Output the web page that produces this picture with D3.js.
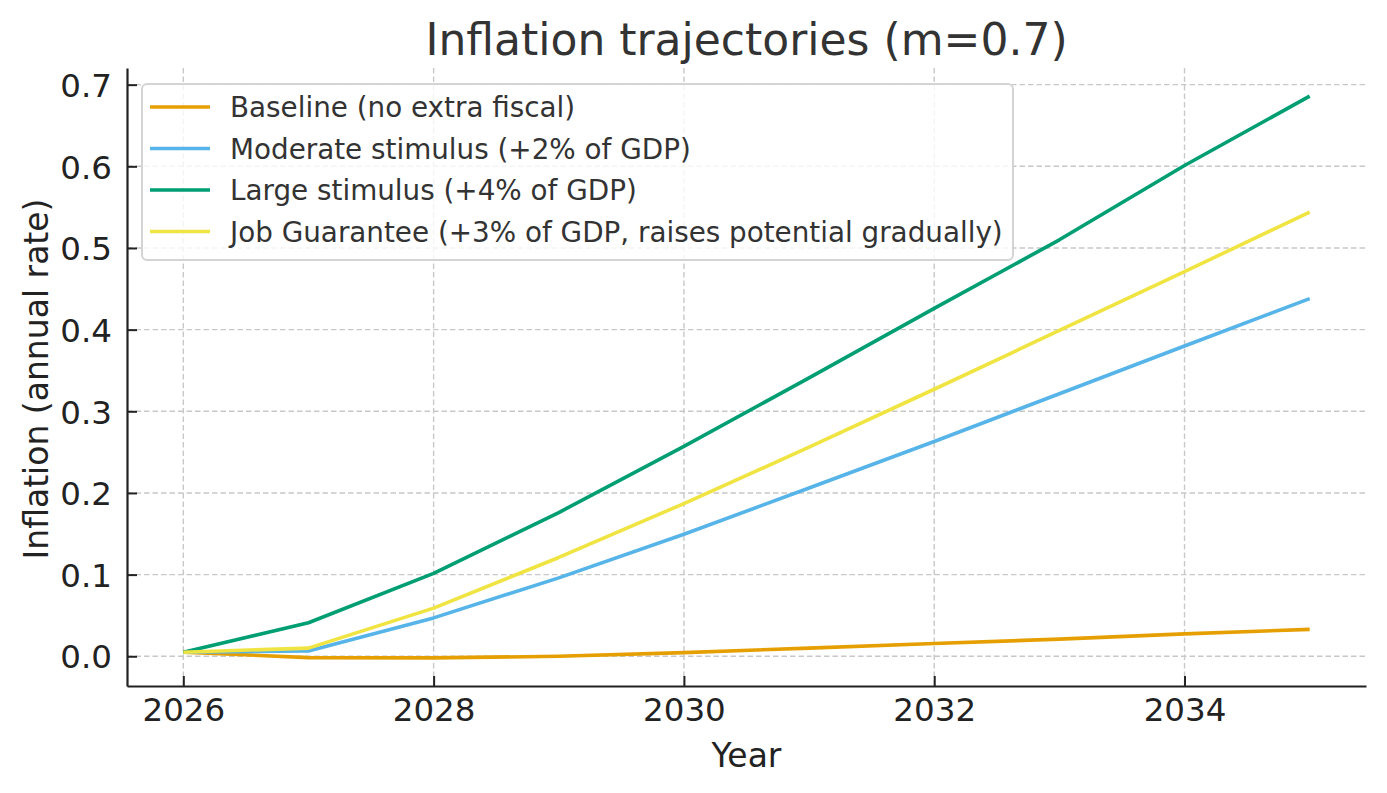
<!DOCTYPE html>
<html>
<head>
<meta charset="utf-8">
<script src="https://cdn.jsdelivr.net/npm/d3@7"></script>
<style>
  html, body { margin: 0; padding: 0; background: #fff; }
  svg { display: block; font-family: "DejaVu Sans", sans-serif; }
</style>
</head>
<body>
<svg id="chart" width="1387" height="793"></svg>
<script>
const years = [2026, 2027, 2028, 2029, 2030, 2031, 2032, 2033, 2034, 2035];
const baseline = [0.005, -0.0016, -0.002, 0.0, 0.0045, 0.010, 0.0156, 0.021, 0.0274, 0.033];
const moderate = [0.005, 0.0065, 0.047, 0.096, 0.1495, 0.206, 0.263, 0.3215, 0.380, 0.438];
const large = [0.005, 0.041, 0.1016, 0.176, 0.257, 0.341, 0.426, 0.510, 0.601, 0.686];
const jobGuarantee = [0.005, 0.010, 0.059, 0.121, 0.187, 0.256, 0.327, 0.399, 0.471, 0.544];
const seriesNames = ["Baseline (no extra fiscal)", "Moderate stimulus (+2% of GDP)", "Large stimulus (+4% of GDP)", "Job Guarantee (+3% of GDP, raises potential gradually)"];
const seriesColors = ["#E69F00", "#56B4E9", "#009E73", "#F0E442"];
const xTicks = [2026, 2028, 2030, 2032, 2034];
const yTicks = [0.0, 0.1, 0.2, 0.3, 0.4, 0.5, 0.6, 0.7];

(function () {
const series = [baseline, moderate, large, jobGuarantee].map((vals, i) => ({
  name: seriesNames[i], color: seriesColors[i], values: vals
}));

const svg = d3.select("#chart");
const pl = 127, pr = 1366, pt = 68, pb = 686;

const allVals = series.flatMap(s => s.values);
const yMin = d3.min(allVals), yMax = d3.max(allVals);
const yPad = (yMax - yMin) * 0.05;
const xPad = (years[years.length - 1] - years[0]) * 0.05;

const x = d3.scaleLinear().domain([years[0] - xPad, years[years.length - 1] + xPad]).range([pl, pr]);
const y = d3.scaleLinear().domain([yMin - yPad, yMax + yPad]).range([pb, pt]);

// grid
const grid = svg.append("g");
grid.selectAll("line.gx").data(xTicks).join("line")
  .attr("x1", d => x(d)).attr("x2", d => x(d)).attr("y1", pt).attr("y2", pb)
  .attr("stroke", "#c8c8c8").attr("stroke-width", 1.4).attr("stroke-dasharray", "5.5,3");
grid.selectAll("line.gy").data(yTicks).join("line")
  .attr("x1", pl).attr("x2", pr).attr("y1", d => y(d)).attr("y2", d => y(d))
  .attr("stroke", "#c8c8c8").attr("stroke-width", 1.4).attr("stroke-dasharray", "5.5,3");

// lines
const line = d3.line().x((d, i) => x(years[i])).y(d => y(d));
svg.append("g").selectAll("path").data(series).join("path")
  .attr("d", d => line(d.values))
  .attr("fill", "none").attr("stroke", d => d.color).attr("stroke-width", 3.6)
  .attr("stroke-linejoin", "round");

// axes
const xAxis = d3.axisBottom(x).tickValues(xTicks).tickFormat(d3.format("d")).tickSizeInner(-10).tickSizeOuter(0).tickPadding(12);
const yAxis = d3.axisLeft(y).tickValues(yTicks).tickFormat(d3.format(".1f")).tickSizeInner(-10).tickSizeOuter(0).tickPadding(15);

const gx = svg.append("g").attr("transform", `translate(0,${pb})`).call(xAxis);
const gy = svg.append("g").attr("transform", `translate(${pl},0)`).call(yAxis);
[gx, gy].forEach(g => {
  g.select(".domain").attr("stroke", "#222").attr("stroke-width", 2.2);
  g.selectAll(".tick line").attr("stroke", "#222").attr("stroke-width", 2);
  g.selectAll(".tick text").attr("fill", "#222").attr("font-size", 32.5).attr("font-family", "DejaVu Sans");
});
gx.selectAll(".tick text").attr("dy", "0.71em");
gy.selectAll(".tick text").attr("dy", "0.36em");

// labels
svg.append("text").attr("x", (pl + pr) / 2).attr("y", 767).attr("text-anchor", "middle")
  .attr("font-size", 33).attr("fill", "#222").text("Year");
svg.append("text").attr("transform", `translate(48,${(pt + pb) / 2 + 2}) rotate(-90)`).attr("text-anchor", "middle")
  .attr("font-size", 33).attr("fill", "#222").text("Inflation (annual rate)");
svg.append("text").attr("x", (pl + pr) / 2).attr("y", 55).attr("text-anchor", "middle")
  .attr("font-size", 44).attr("fill", "#333").text("Inflation trajectories (m=0.7)");

// legend
const lg = svg.append("g");
lg.append("rect").attr("x", 142).attr("y", 84).attr("width", 871).attr("height", 176).attr("rx", 5)
  .attr("fill", "rgba(255,255,255,0.8)").attr("stroke", "#d4d4d4").attr("stroke-width", 2);
const items = lg.selectAll("g.item").data(series).join("g").attr("transform", (d, i) => `translate(0,${107 + i * 41.5})`);
items.append("line").attr("x1", 150).attr("x2", 210).attr("y1", 0).attr("y2", 0)
  .attr("stroke", d => d.color).attr("stroke-width", 3.6);
items.append("text").attr("x", 230).attr("y", 0).attr("dy", "0.36em").attr("font-size", 27.8).attr("fill", "#333")
  .text(d => d.name);
})();
</script>
</body>
</html>
